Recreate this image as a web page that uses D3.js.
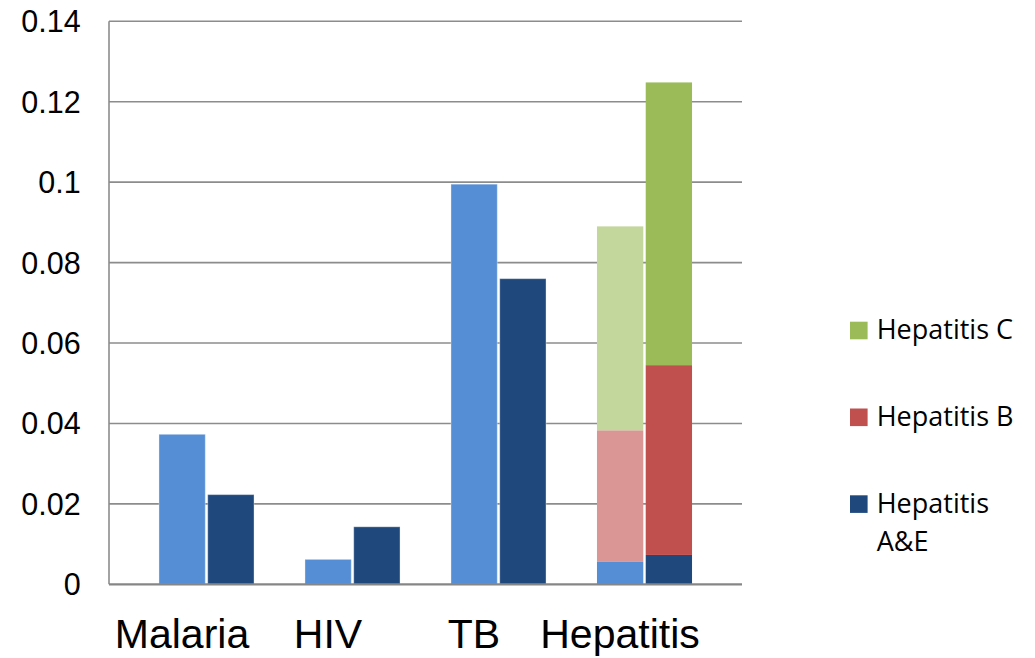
<!DOCTYPE html>
<html>
<head>
<meta charset="utf-8">
<script src="https://cdn.jsdelivr.net/npm/d3@7"></script>
<style>
  html, body { margin: 0; padding: 0; background: #fff; }
  svg { display: block; }
</style>
</head>
<body>
<svg id="chart" width="1035" height="658"></svg>
<script>
// ---- data ----
const categories = ["Malaria", "HIV", "TB", "Hepatitis"];
const seriesLight = [0.0373, 0.0062, 0.0995, null];   // first bar of each group
const seriesDark  = [0.0223, 0.0143, 0.0760, null];   // second bar of each group
// Hepatitis stacked breakdown (first bar, second bar)
const hepAE = [0.0057, 0.0073];
const hepB  = [0.0326, 0.0472];
const hepC  = [0.0507, 0.0703];
const yTicks = [0, 0.02, 0.04, 0.06, 0.08, 0.1, 0.12, 0.14];
const yTickLabels = ["0", "0.02", "0.04", "0.06", "0.08", "0.1", "0.12", "0.14"];
const legendLabels = [["Hepatitis C"], ["Hepatitis B"], ["Hepatitis", "A&E"]];

// ---- styles ----
const colLight = "#558ED5", colDark = "#1F497D";
const stackColorsLight = ["#558ED5", "#D99694", "#C3D69B"];
const stackColorsDark  = ["#1F497D", "#C0504D", "#9BBB59"];
const legendColors = ["#9BBB59", "#C0504D", "#1F497D"];

const svg = d3.select("#chart");
const plotLeft = 109, plotRight = 742;

const y = d3.scaleLinear().domain([0, 0.14]).range([584.3, 21.3]);
const x = d3.scaleBand().domain(categories).range([133.5, 717.5])
  .paddingInner(0.349).paddingOuter(0.1745);
const xSub = d3.scaleBand().domain([0, 1]).range([0, x.bandwidth()]).paddingInner(0.05);

// gridlines
svg.append("g").selectAll("line").data(yTicks.filter(d => d > 0)).join("line")
  .attr("x1", plotLeft).attr("x2", plotRight)
  .attr("y1", d => y(d)).attr("y2", d => y(d))
  .attr("stroke", "#8c8c8c").attr("stroke-width", 1.6);

// y tick labels
svg.append("g").selectAll("text").data(yTicks).join("text")
  .attr("x", 80.7).attr("y", d => y(d)).attr("dy", "0.36em")
  .attr("text-anchor", "end")
  .attr("font-family", "'Liberation Sans', Arial, sans-serif")
  .attr("font-size", 30.5).attr("fill", "#000")
  .text((d, i) => yTickLabels[i]);

// simple bars
const bars = svg.append("g");
categories.forEach((c, i) => {
  [[seriesLight[i], colLight, 0], [seriesDark[i], colDark, 1]].forEach(([v, col, k]) => {
    if (v == null) return;
    bars.append("rect")
      .attr("x", x(c) + xSub(k)).attr("width", xSub.bandwidth())
      .attr("y", y(v)).attr("height", y(0) - y(v))
      .attr("fill", col).attr("stroke", "#ffffff").attr("stroke-opacity", 0.35).attr("stroke-width", 1);
  });
});

// stacked hepatitis bars
const stackRows = [0, 1].map(k => ({ k, ae: hepAE[k], b: hepB[k], c: hepC[k] }));
const stacked = d3.stack().keys(["ae", "b", "c"])(stackRows);
stacked.forEach((layer, li) => {
  layer.forEach(seg => {
    const k = seg.data.k;
    bars.append("rect")
      .attr("x", x("Hepatitis") + xSub(k)).attr("width", xSub.bandwidth())
      .attr("y", y(seg[1])).attr("height", y(seg[0]) - y(seg[1]))
      .attr("fill", k === 0 ? stackColorsLight[li] : stackColorsDark[li]);
  });
});

// axes lines
svg.append("line").attr("x1", plotLeft).attr("x2", plotLeft)
  .attr("y1", y(0.14)).attr("y2", y(0))
  .attr("stroke", "#8c8c8c").attr("stroke-width", 1.6);
svg.append("line").attr("x1", plotLeft).attr("x2", plotRight)
  .attr("y1", y(0)).attr("y2", y(0))
  .attr("stroke", "#868686").attr("stroke-width", 2.2);

// x labels
svg.append("g").selectAll("text").data(categories).join("text")
  .attr("x", d => x(d) + x.bandwidth() / 2 - 24.5)
  .attr("y", 648)
  .attr("text-anchor", "middle")
  .attr("font-family", "'Liberation Sans', Arial, sans-serif")
  .attr("font-size", 41).attr("fill", "#000")
  .text(d => d);

// legend
const lg = svg.append("g");
legendLabels.forEach((lines, i) => {
  const base = 339.3 + i * 86.8;
  lg.append("rect").attr("x", 850).attr("y", base - 17.6).attr("width", 17.6).attr("height", 17.6)
    .attr("fill", legendColors[i]);
  const t = lg.append("text").attr("x", 876.7).attr("y", base)
    .attr("font-family", "'Open Sans', 'Noto Sans', sans-serif")
    .attr("font-size", 27).attr("fill", "#000");
  lines.forEach((ln, j) => {
    t.append("tspan").attr("x", 876.7).attr("y", base + j * 38).text(ln);
  });
});
</script>
</body>
</html>
